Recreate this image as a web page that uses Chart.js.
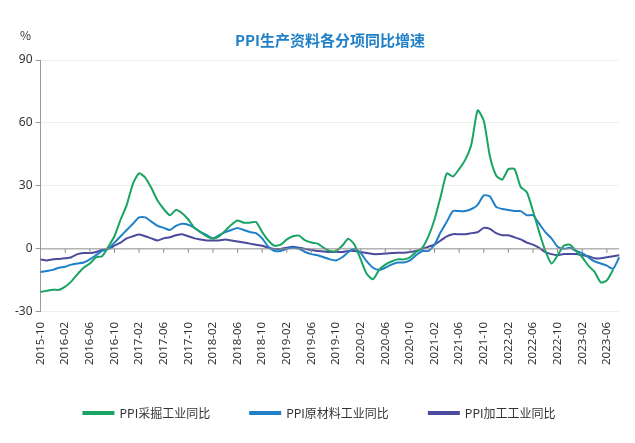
<!DOCTYPE html>
<html>
<head>
<meta charset="utf-8">
<script src="https://cdn.jsdelivr.net/npm/chart.js@4"></script>
<style>
    body { margin: 0; background: #fff; }
    #wrap { width: 635px; height: 443px; position: relative; }
</style>
</head>
<body>
<div id="wrap"><canvas id="ppi-chart"></canvas></div>
<script>
// 月份 2015-10 ~ 2023-08
const months = [];
for (let y = 2015, m = 10; y < 2023 || (y === 2023 && m <= 8); m++) {
    if (m > 12) { m = 1; y++; }
    months.push(y + '-' + String(m).padStart(2, '0'));
}

const mining = [-20.5, -20, -19.5, -19.5, -18, -15.5, -12, -9, -7, -4, -3.5, 1, 6, 14, 21, 31, 36, 34, 29, 23,
    19, 16, 18.5, 17, 14, 10, 8, 6, 5, 6, 8.7, 11.5, 13.5, 12.5, 12.5, 12.8, 8, 4, 1.5, 2,
    4.5, 6, 6.3, 4, 3, 2.5, 0.5, -1, -1, 1.5, 4.8, 2, -5, -12, -14.5, -10, -7.5, -6, -5, -5,
    -4, -1.5, 0.5, 6, 14, 25, 36, 34.5, 38, 42.5, 50, 66, 61, 44, 35, 33, 38, 38, 29.5, 27,
    18, 8, -1, -7, -3, 1.5, 2, -1, -4, -8, -11, -16, -15, -10];
const rawMaterial = [-11, -10.5, -10, -9, -8.5, -7.5, -7, -6.5, -5, -3, -1, 0, 3, 6, 9, 12, 15, 15, 13, 11,
    10, 9, 11, 12, 11.5, 10, 8, 6.5, 5, 6.5, 8, 9, 10, 9, 8, 7.5, 5, 1, -1, -1,
    0, 0.5, 0, -1.5, -2.5, -3, -4, -5, -5.5, -4, -1.5, 0, -2, -6, -9, -10, -9, -7.5, -6.5, -6.5,
    -5.5, -3, -1, -1, 2, 8, 13, 18, 18, 18, 19, 21, 25.5, 25, 20, 19, 18.5, 18, 18, 16,
    16, 12, 8, 5, 1, 0, 0.5, -1, -2, -4, -6, -7, -8, -9.5, -4];
const processing = [-5, -5.5, -5, -4.8, -4.5, -4, -2.5, -2, -2, -1.5, -0.5, 0, 1.5, 3, 5, 6, 6.8, 6, 5, 4,
    5, 5.5, 6.5, 7, 6, 5, 4.5, 4, 4, 4, 4.5, 4, 3.5, 3, 2.5, 2, 1.5, 0.5, 0, 0,
    0.5, 1, 0.5, 0, -0.5, -1, -1.2, -1.5, -1.5, -1.5, -1, -1, -1.5, -2, -2.5, -2.5, -2.2, -2, -1.8, -1.8,
    -1.5, -1, 0, 1, 2, 4, 6, 7, 7, 7, 7.5, 8, 10, 9.5, 7.5, 6.5, 6.5, 5.5, 4.5, 3,
    2, 0.5, -1.5, -2.5, -3, -2.5, -2.5, -2.5, -3, -3.5, -4.5, -4.5, -4, -3.5, -3];
const yTicks = [90, 60, 30, 0, -30];
const titleText = 'PPI生产资料各分项同比增速';

// 0 축선 + 눈금 + 제목
const zeroAxis = {
    id: 'zeroAxis',
    afterDatasetsDraw(chart) {
        const { ctx, scales: { x, y }, chartArea } = chart;
        const y0 = y.getPixelForValue(0);
        ctx.save();
        ctx.strokeStyle = '#8c8c8c';
        ctx.lineWidth = 1;
        ctx.beginPath();
        ctx.moveTo(chartArea.left, y0);
        ctx.lineTo(chartArea.right, y0);
        months.forEach((m, i) => {
            if (i % 4 === 0 && i > 0) {
                const px = x.getPixelForValue(i);
                ctx.moveTo(px, y0);
                ctx.lineTo(px, y0 + 4);
            }
        });
        ctx.stroke();
        ctx.fillStyle = '#333';
        ctx.font = '12px "Noto Sans CJK SC"';
        ctx.fillText('%', 20, 35);
        ctx.fillStyle = '#1f80c8';
        ctx.font = 'bold 15px "Noto Sans CJK SC"';
        ctx.textAlign = 'center';
        ctx.fillText(titleText, (chartArea.left + chartArea.right) / 2, 40);
        ctx.restore();
    }
};

const mk = (label, data, color) => ({
    label: label, data: data, borderColor: color, backgroundColor: color,
    borderWidth: 2, pointRadius: 0, tension: 0.2, fill: false
});

new Chart(document.getElementById('ppi-chart'), {
    type: 'line',
    data: {
        labels: months,
        datasets: [
            mk('PPI采掘工业同比', mining, '#1aa463'),
            mk('PPI原材料工业同比', rawMaterial, '#1f80c8'),
            mk('PPI加工工业同比', processing, '#4b4a9c')
        ]
    },
    options: {
        responsive: true,
        maintainAspectRatio: false,
        animation: false,
        layout: { padding: { left: 12, right: 8, top: 4, bottom: 14 } },
        plugins: {
            title: {
                display: true,
                text: titleText,
                color: 'rgba(0,0,0,0)',
                font: { family: '"Noto Sans CJK SC"', size: 15, weight: 'bold' },
                padding: { top: 20, bottom: 18 }
            },
            legend: {
                position: 'bottom',
                labels: {
                    boxWidth: 30, boxHeight: 2, padding: 40, color: '#333',
                    font: { family: '"Noto Sans CJK SC"', size: 12 }
                }
            },
            tooltip: { enabled: false }
        },
        scales: {
            x: {
                grid: { display: false },
                border: { display: false },
                ticks: {
                    autoSkip: false, maxRotation: 90, minRotation: 90, padding: 2,
                    color: '#333', font: { family: '"Noto Sans"', size: 11.5 },
                    callback: function (v, i) { return i % 4 === 0 ? months[i] : ''; }
                }
            },
            y: {
                min: -30, max: 90,
                afterBuildTicks: s => { s.ticks = yTicks.map(v => ({ value: v })); },
                grid: { color: ctx => ctx.tick.value === 0 ? 'rgba(0,0,0,0)' : '#eeeeee', tickLength: 5, tickColor: '#999' },
                border: { display: true, color: '#999' },
                ticks: { color: '#333', font: { family: '"Noto Sans"', size: 12 } }
            }
        }
    },
    plugins: [zeroAxis]
});
</script>
</body>
</html>
